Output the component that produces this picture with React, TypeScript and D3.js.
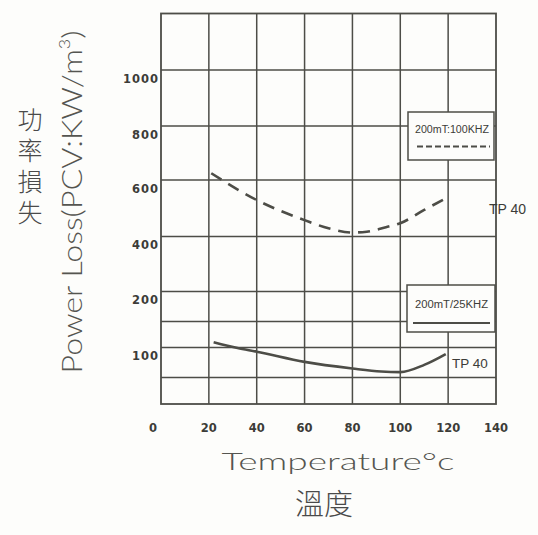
import React from "react";
import * as d3 from "d3";

// ---- data ----
const xTicks = [0, 20, 40, 60, 80, 100, 120, 140];
const yTickLabels = [100, 200, 400, 600, 800, 1000];
const yGridValues = [0, 50, 100, 150, 200, 400, 600, 800, 1000, 1200];

const temps100k = [21, 40, 60, 70, 80, 86, 94, 100, 110, 119];
const loss100k = [625, 529, 458, 429, 414, 417, 433, 447, 494, 535];

const temps25k = [22, 32, 40, 60, 80, 92, 100, 110, 119];
const loss25k = [110, 99, 93, 76, 65, 60, 59, 71, 89];

const legend100 = "200mT:100KHZ";
const legend25 = "200mT/25KHZ";
const seriesLabel = "TP 40";
const yTitle = "Power Loss(PCV:KW/m";
const yTitleCN = "功率損失";
const xTitle = "Temperature°c";
const xTitleCN = "溫度";

const INK = "#4d4d47";
const TEXT = "#3c3c38";

export default function App() {
  const W = 538, H = 535;
  const x = d3.scaleLinear().domain([0, 140]).range([161, 496]);
  const y = d3
    .scaleLinear()
    .domain(yGridValues)
    .range([404, 377.5, 347.5, 321.5, 291.5, 236.5, 180, 126, 70, 13.5]);

  const line = d3
    .line<[number, number]>()
    .x((d) => x(d[0]))
    .y((d) => y(d[1]))
    .curve(d3.curveMonotoneX);

  const d100 = line(temps100k.map((t, i) => [t, loss100k[i]] as [number, number])) || "";
  const d25 = line(temps25k.map((t, i) => [t, loss25k[i]] as [number, number])) || "";

  const x0 = x(0), x1 = x(140), yTop = y(1200), yBot = y(0);
  const numFont = "'DejaVu Sans', sans-serif";
  const lightFont = "Lato, 'Open Sans', sans-serif";

  return (
    <svg
      width={W}
      height={H}
      viewBox={`0 0 ${W} ${H}`}
      style={{ position: "absolute", left: 0, top: 0, background: "#fdfdfb" }}
    >
      <rect x={0} y={0} width={W} height={H} fill="#fdfdfb" />
      {/* grid */}
      <g stroke={INK} strokeWidth={1.5} fill="none">
        {xTicks.slice(1, -1).map((t) => (
          <line key={"vx" + t} x1={x(t)} x2={x(t)} y1={yTop} y2={yBot} />
        ))}
        {yGridValues.slice(1, -1).map((v) => (
          <line key={"hy" + v} x1={x0} x2={x1} y1={y(v)} y2={y(v)} />
        ))}
        <rect x={x0} y={yTop} width={x1 - x0} height={yBot - yTop} strokeWidth={1.8} />
      </g>

      {/* y tick labels */}
      <g fill={TEXT} fontFamily={numFont} fontWeight="bold" fontSize={11.5} textAnchor="end">
        {yTickLabels.map((v) => (
          <text key={"yl" + v} x={x0 - 2} y={y(v) + 9} dominantBaseline="middle" letterSpacing={1}>
            {v}
          </text>
        ))}
      </g>

      {/* x tick labels */}
      <g fill={TEXT} fontFamily={numFont} fontWeight="bold" fontSize={11.5} textAnchor="middle">
        {xTicks.map((t) => (
          <text key={"xl" + t} x={x(t) - (t === 0 ? 8 : 0)} y={428} dominantBaseline="middle">
            {t}
          </text>
        ))}
      </g>

      {/* curves */}
      <path d={d100} fill="none" stroke={INK} strokeWidth={2.6} strokeDasharray="12 8" />
      <path d={d25} fill="none" stroke={INK} strokeWidth={2.6} />

      {/* legend 100k */}
      <g>
        <rect x={408} y={112} width={86} height={48} fill="#fdfdfb" stroke={INK} strokeWidth={1.5} />
        <text
          x={415}
          y={130}
          fontFamily="'Liberation Sans', Arial, sans-serif"
          fontSize={10}
          fill={TEXT}
          dominantBaseline="middle"
          textLength={74}
          lengthAdjust="spacingAndGlyphs"
        >
          {legend100}
        </text>
        <line x1={417} x2={490} y1={146.5} y2={146.5} stroke={INK} strokeWidth={1.8} strokeDasharray="6 3" />
      </g>

      {/* legend 25k */}
      <g>
        <rect x={407} y={285} width={88} height={47} fill="#fdfdfb" stroke={INK} strokeWidth={1.5} />
        <text
          x={415}
          y={305}
          fontFamily="'Liberation Sans', Arial, sans-serif"
          fontSize={10}
          fill={TEXT}
          dominantBaseline="middle"
          textLength={73}
          lengthAdjust="spacingAndGlyphs"
        >
          {legend25}
        </text>
        <line x1={413} x2={490} y1={323} y2={323} stroke={INK} strokeWidth={2} />
      </g>

      {/* series labels */}
      <text x={489} y={210} fontFamily="'Liberation Sans', Arial, sans-serif" fontSize={14} fill={TEXT} dominantBaseline="middle">
        {seriesLabel}
      </text>
      <text x={452} y={364} fontFamily="'Liberation Sans', Arial, sans-serif" fontSize={13.5} fill={TEXT} dominantBaseline="middle">
        {seriesLabel}
      </text>

      {/* y title */}
      <text
        transform={`translate(82, 202) rotate(-90)`}
        textAnchor="middle"
        fontFamily={lightFont}
        fontWeight={300}
        fontSize={27}
        fill="#555550"
        textLength={343}
        lengthAdjust="spacingAndGlyphs"
      >
        {yTitle}
        <tspan dy={-12} fontSize={15}>3</tspan>
        <tspan dy={12}>)</tspan>
      </text>
      <text
        x={30}
        y={107}
        writingMode="vertical-rl"
        fontFamily="'Noto Sans CJK TC', sans-serif"
        fontWeight={300}
        fontSize={25}
        letterSpacing={6}
        fill="#4a4a4a"
      >
        {yTitleCN}
      </text>

      {/* x title */}
      <text
        x={338}
        y={470}
        textAnchor="middle"
        fontFamily={lightFont}
        fontWeight={300}
        fontSize={23}
        fill="#555550"
        textLength={233}
        lengthAdjust="spacingAndGlyphs"
      >
        {xTitle}
      </text>
      <text
        x={324}
        y={507}
        textAnchor="middle"
        dominantBaseline="middle"
        fontFamily="'Noto Sans CJK TC', sans-serif"
        fontWeight={300}
        fontSize={29}
        fill="#4a4a4a"
      >
        {xTitleCN}
      </text>
    </svg>
  );
}
